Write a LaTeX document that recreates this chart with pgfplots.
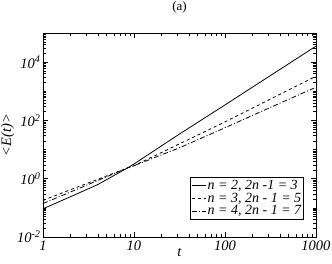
\documentclass[border=0pt]{standalone}
\usepackage{fontspec}
\setmainfont{Liberation Serif}
\usepackage{pgfplots}
\pgfplotsset{compat=1.18}
\begin{document}
\begin{tikzpicture}
\path[use as bounding box] (-43pt,-27pt) rectangle (289pt,237pt);
\begin{axis}[
  at={(0pt,0pt)}, anchor=south west,
  scale only axis, width=273pt, height=204pt,
  xmode=log, ymode=log,
  xmin=1, xmax=1000, ymin=1e-2, ymax=1e5,
  xtick={1,10,100,1000}, xticklabels={1,10,100,1000},
  ytick={1e-2,1,1e2,1e4},
  yticklabels={10\textsuperscript{-2},10\textsuperscript{0},10\textsuperscript{2},10\textsuperscript{4}},
  minor ytick={0.02,0.03,0.04,0.05,0.06,0.07,0.08,0.09,0.1,0.2,0.3,0.4,0.5,0.6,0.7,0.8,0.9,
    2,3,4,5,6,7,8,9,10,20,30,40,50,60,70,80,90,200,300,400,500,600,700,800,900,1000,
    2000,3000,4000,5000,6000,7000,8000,9000,10000,20000,30000,40000,50000,60000,70000,80000,90000},
  tick align=inside,
  major tick length=5pt, minor tick length=3pt,
  every tick/.style={black, line width=0.5pt},
  tick label style={font=\fontsize{14.5}{16}\selectfont\itshape},
  yticklabel style={xshift=1pt},
  xlabel={\itshape t}, ylabel={\itshape <E(t)>},
  label style={font=\fontsize{14.5}{16}\selectfont},
  xlabel style={yshift=9pt},
  ylabel style={yshift=-4pt},
  title={(a)}, title style={font=\fontsize{13}{15}\selectfont, yshift=10pt},
  axis line style={line width=0.6pt},
  legend style={at={(0.956,0.088)}, anchor=south east, draw=black, line width=0.5pt,
    font=\fontsize{14}{15}\selectfont\itshape, row sep=-1pt, inner sep=1pt,
    nodes={inner sep=1.5pt}, cells={anchor=west}},
  legend cell align=left,
  legend image post style={xscale=0.8},
]
\addplot[black, line width=0.8pt] coordinates {
  (1,0.093) (2,0.24) (4,0.63) (8.5,2.35) (10,3.2) (32,35) (100,340) (316,3470) (1000,35500)};
\addlegendentry{n = 2, 2n -1 = 3}
\addplot[black, line width=0.8pt, dashed] coordinates {
  (1,0.18) (2,0.42) (4,0.95) (8.5,2.35) (10,2.8) (32,16) (100,89) (316,540) (1000,3300)};
\addlegendentry{n = 3, 2n - 1 = 5}
\addplot[black, line width=0.8pt, dash pattern=on 5pt off 2pt on 1pt off 2pt] coordinates {
  (1,0.14) (2,0.35) (4,0.87) (8.5,2.35) (10,2.8) (32,11.7) (100,56) (316,280) (1000,1380)};
\addlegendentry{n = 4, 2n - 1 = 7}
\end{axis}
\end{tikzpicture}
\end{document}
